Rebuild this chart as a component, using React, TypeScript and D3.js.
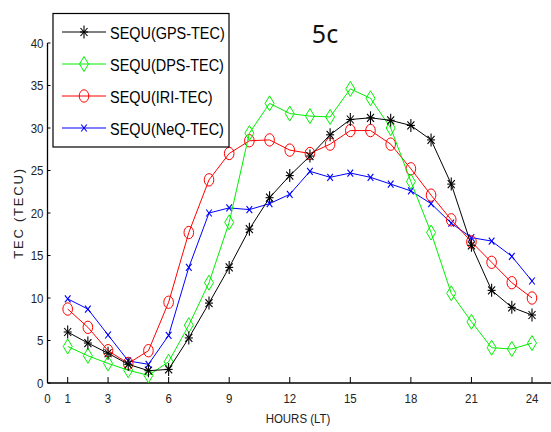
import React from "react";
import * as d3 from "d3";

const hours = [1,2,3,4,5,6,7,8,9,10,11,12,13,14,15,16,17,18,19,20,21,22,23,24];
const gpsTec = [6.0,4.7,3.5,2.2,1.45,1.6,5.3,9.4,13.6,18.1,21.8,24.4,26.7,29.2,31.0,31.2,30.9,30.3,28.6,23.4,16.2,10.9,8.9,8.0];
const dpsTec = [4.3,3.2,2.3,1.5,0.9,2.5,6.8,11.8,18.9,29.4,32.9,31.7,31.4,31.3,34.6,33.5,30.0,23.7,17.7,10.55,7.2,4.15,4.0,4.7];
const iriTec = [8.7,6.55,3.8,2.3,3.8,9.5,17.7,23.9,27.0,28.5,28.6,27.4,27.0,28.1,29.7,29.7,28.1,25.2,22.1,19.2,16.6,14.2,11.8,10.0];
const neqTec = [9.9,8.7,5.65,2.6,2.2,5.6,13.6,20.0,20.6,20.4,21.1,22.2,24.9,24.2,24.7,24.2,23.4,22.6,21.1,18.8,17.1,16.7,14.9,12.0];
const seriesNames = ["SEQU(GPS-TEC)","SEQU(DPS-TEC)","SEQU(IRI-TEC)","SEQU(NeQ-TEC)"];
const xTicks = [0,1,3,6,9,12,15,18,21,24];
const yTicks = [0,5,10,15,20,25,30,35,40];

const FONT = "'Liberation Sans', Arial, sans-serif";

type Marker = "star" | "diamond" | "circle" | "x";

function MarkerShape({ kind, x, y, color }: { kind: Marker; x: number; y: number; color: string }) {
  if (kind === "star") {
    return (
      <g stroke={color} strokeWidth={1.1} fill="none">
        <line x1={x} y1={y - 6.5} x2={x} y2={y + 6.5} />
        <line x1={x - 4} y1={y} x2={x + 4} y2={y} />
        <line x1={x - 3.5} y1={y - 4} x2={x + 3.5} y2={y + 4} />
        <line x1={x - 3.5} y1={y + 4} x2={x + 3.5} y2={y - 4} />
      </g>
    );
  }
  if (kind === "diamond") {
    return (
      <path
        d={`M${x},${y - 7.5}L${x + 4.5},${y}L${x},${y + 7.5}L${x - 4.5},${y}Z`}
        stroke={color}
        strokeWidth={1}
        fill="none"
      />
    );
  }
  if (kind === "circle") {
    return <ellipse cx={x} cy={y} rx={4.8} ry={6.2} stroke={color} strokeWidth={1} fill="none" />;
  }
  return (
    <g stroke={color} strokeWidth={1.1}>
      <line x1={x - 2.8} y1={y - 3.5} x2={x + 2.8} y2={y + 3.5} />
      <line x1={x - 2.8} y1={y + 3.5} x2={x + 2.8} y2={y - 3.5} />
    </g>
  );
}

export default function App() {
  const W = 551, H = 432;
  const x = d3.scaleLinear().domain([0, 24]).range([47.5, 532]);
  const y = d3.scaleLinear().domain([0, 40]).range([383, 43]);

  const series = [
    { name: seriesNames[3], values: neqTec, color: "#0000ff", marker: "x" as Marker },
    { name: seriesNames[2], values: iriTec, color: "#ff0000", marker: "circle" as Marker },
    { name: seriesNames[1], values: dpsTec, color: "#00f000", marker: "diamond" as Marker },
    { name: seriesNames[0], values: gpsTec, color: "#000000", marker: "star" as Marker },
  ];
  const legendOrder = [series[3], series[2], series[1], series[0]];

  const line = d3
    .line<number>()
    .x((_, i) => x(hours[i]))
    .y((d) => y(d));

  return (
    <svg width={W} height={H} style={{ position: "absolute", left: 0, top: 0, background: "#fff" }}>
      <rect x={0} y={0} width={W} height={H} fill="#fff" />
      {/* axes */}
      <line x1={x(0)} y1={y(0)} x2={W} y2={y(0)} stroke="#000" strokeWidth={1.3} />
      <line x1={x(0)} y1={y(0)} x2={x(0)} y2={y(40)} stroke="#000" strokeWidth={1.3} />
      {xTicks.filter((t) => t !== 0).map((t) => (
        <line key={"xt" + t} x1={x(t)} x2={x(t)} y1={y(0)} y2={y(0) - 6} stroke="#000" strokeWidth={1} />
      ))}
      {xTicks.map((t) => (
        <text
          key={"xl" + t}
          transform={`translate(${x(t)},${y(0) + 20}) scale(0.85,1)`}
          textAnchor="middle"
          fontFamily={FONT}
          fontSize={13.5}
          fill="#222"
        >
          {t}
        </text>
      ))}
      {yTicks.map((t) => (
        <g key={"y" + t}>
          <line x1={x(0)} x2={x(0) + 3} y1={y(t)} y2={y(t)} stroke="#000" strokeWidth={1} />
          <text
            transform={`translate(${x(0) - 4},${y(t) + 4.5}) scale(0.85,1)`}
            textAnchor="end"
            fontFamily={FONT}
            fontSize={13.5}
            fill="#222"
          >
            {t}
          </text>
        </g>
      ))}
      <text
        transform={`translate(22.5,213) rotate(-90)`}
        textAnchor="middle"
        fontFamily={FONT}
        fontSize={13}
        letterSpacing={1.8}
        fill="#222"
      >
        TEC (TECU)
      </text>
      <text
        transform={`translate(298,423) scale(0.85,1)`}
        textAnchor="middle"
        fontFamily={FONT}
        fontSize={13.5}
        fill="#222"
      >
        HOURS (LT)
      </text>
      <text x={325} y={43} textAnchor="middle" fontFamily="'Noto Sans', 'Open Sans', sans-serif" fontSize={25} fill="#111">
        5c
      </text>

      {/* series */}
      {series.map((s) => (
        <g key={s.name}>
          <path d={line(s.values) || ""} fill="none" stroke={s.color} strokeWidth={1} />
          {s.values.map((v, i) => (
            <MarkerShape key={i} kind={s.marker} x={x(hours[i])} y={y(v)} color={s.color} />
          ))}
        </g>
      ))}

      {/* legend */}
      <rect x={53} y={13.5} width={176} height={133.5} fill="#fff" stroke="#000" strokeWidth={1.2} />
      {legendOrder.map((s, i) => {
        const ly = 32 + i * 32;
        return (
          <g key={"lg" + s.name}>
            <line x1={62} x2={106} y1={ly} y2={ly} stroke={s.color} strokeWidth={1} />
            <MarkerShape kind={s.marker} x={84} y={ly} color={s.color} />
            <text
              transform={`translate(110,${ly + 6.5}) scale(0.85,1)`}
              fontFamily={FONT}
              fontSize={17}
              fill="#000"
            >
              {s.name}
            </text>
          </g>
        );
      })}
    </svg>
  );
}
